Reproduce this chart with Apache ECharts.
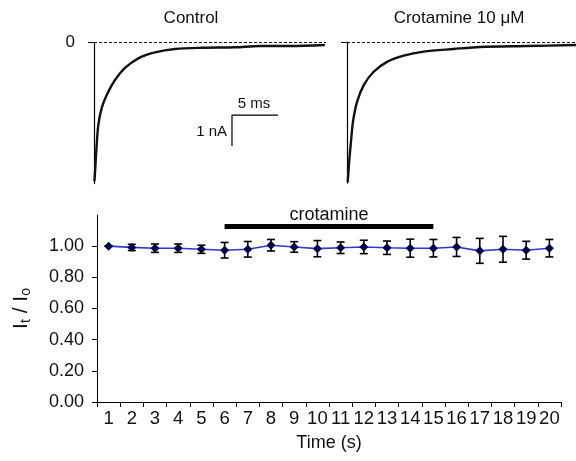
<!DOCTYPE html>
<html><head><meta charset="utf-8">
<script src="https://cdn.jsdelivr.net/npm/echarts@6.0.0/dist/echarts.min.js"></script>
<style>html,body{margin:0;padding:0;background:#fff}#c{width:576px;height:461px}</style>
</head><body><div id="c"></div>
<script>
// ---- Top panel: current traces (time in ms, current in nA) ----
const controlTime    = [0.05, 0.16, 0.29, 0.47, 0.84, 1.38, 2.28, 3.37, 4.82, 6.63, 8.8, 11.71, 15.33, 18.04, 21.3, 25.1];
const controlCurrent = [-4.47, -3.95, -3.31, -2.66, -2.11, -1.69, -1.21, -0.82, -0.51, -0.32, -0.21, -0.17, -0.155, -0.113, -0.113, -0.08];
const crotTime    = [0.08, 0.25, 0.43, 0.65, 1.09, 1.82, 2.9, 4.35, 6.16, 8.34, 11.6, 14.46, 19.57, 24.89];
const crotCurrent = [-4.52, -3.81, -3.22, -2.57, -1.93, -1.39, -0.96, -0.64, -0.44, -0.31, -0.226, -0.16, -0.13, -0.097];
// scale bar: 5 ms horizontal, 1 nA vertical
const scaleBarTime    = [15, 15, 20];
const scaleBarCurrent = [-3.34, -2.34, -2.34];

// ---- Bottom panel: normalized current It/Io ----
const categories = ['1','2','3','4','5','6','7','8','9','10','11','12','13','14','15','16','17','18','19','20'];
const ratioMean = [1.000, 0.992, 0.987, 0.987, 0.980, 0.974, 0.980, 1.006, 0.995, 0.984, 0.990, 0.995, 0.990, 0.987, 0.987, 0.995, 0.970, 0.980, 0.974, 0.987];
const ratioErr  = [0.000, 0.020, 0.027, 0.027, 0.026, 0.050, 0.050, 0.037, 0.034, 0.052, 0.037, 0.043, 0.043, 0.058, 0.056, 0.061, 0.080, 0.083, 0.057, 0.056];
const yTicks = [0, 0.2, 0.4, 0.6, 0.8, 1.0];
const crotamineStart = '6', crotamineEnd = '15', crotamineLevel = 1.13;

const FONT = "'Liberation Sans', Arial, Helvetica, sans-serif";
const zip = (a, b) => a.map((v, i) => [v, b[i]]);

const chart = echarts.init(document.getElementById('c'), null, {renderer: 'canvas'});
const option = {
  animation: false,
  textStyle: {fontFamily: FONT},
  grid: [
    {left: 94, top: 42.5, width: 232, height: 141.05},
    {left: 347, top: 42, width: 229, height: 141.05},
    {left: 94, top: 215, right: 15, bottom: 59}
  ],
  xAxis: [
    {gridIndex: 0, type: 'value', min: 0, max: 25.22, show: false},
    {gridIndex: 1, type: 'value', min: 0, max: 24.89, show: false},
    {gridIndex: 2, type: 'category', data: categories, boundaryGap: true,
     axisLine: {lineStyle: {color: '#000', width: 1}},
     axisTick: {show: true, length: 5, interval: 0, lineStyle: {color: '#000'}},
     axisLabel: {interval: 0, fontSize: 18.5, color: '#111', margin: 7, fontFamily: FONT},
     name: 'Time (s)', nameLocation: 'middle', nameGap: 32,
     nameTextStyle: {fontSize: 18, color: '#111', fontFamily: FONT}}
  ],
  yAxis: [
    {gridIndex: 0, type: 'value', min: -4.55, max: 0,
     axisLine: {show: true, lineStyle: {color: '#000', width: 1.2}},
     axisTick: {show: true, customValues: [0], length: 6, lineStyle: {color: '#000'}},
     axisLabel: {show: true, customValues: [0], fontSize: 17, color: '#111', margin: 19, fontFamily: FONT},
     splitLine: {show: false}},
    {gridIndex: 1, type: 'value', min: -4.55, max: 0,
     axisLine: {show: true, lineStyle: {color: '#000', width: 1.2}},
     axisTick: {show: true, customValues: [0], length: 6, lineStyle: {color: '#000'}},
     axisLabel: {show: false},
     splitLine: {show: false}},
    {gridIndex: 2, type: 'value', min: 0, max: 1.2,
     axisLine: {show: true, lineStyle: {color: '#000', width: 1}},
     axisTick: {show: true, customValues: yTicks, length: 5, lineStyle: {color: '#000'}},
     axisLabel: {customValues: yTicks, formatter: v => v.toFixed(2), fontSize: 18, color: '#111', margin: 13, fontFamily: FONT},
     splitLine: {show: false},
     name: '{i|I}{s|t}{i| / I}{s|o}', nameLocation: 'middle', nameRotate: 90, nameGap: 64,
     nameTextStyle: {color: '#111', fontFamily: FONT, rich: {
       i: {fontSize: 21, lineHeight: 22, verticalAlign: 'top', fontFamily: FONT, color: '#111'},
       s: {fontSize: 14, lineHeight: 14, padding: [11, 0, 0, 0], verticalAlign: 'bottom', fontFamily: FONT, color: '#111'}
     }}}
  ],
  graphic: [
    {type: 'text', x: 191, y: 18, style: {text: 'Control', fontSize: 17, fontFamily: FONT, fill: '#111', align: 'center', verticalAlign: 'middle'}},
    {type: 'text', x: 459, y: 18, style: {text: 'Crotamine 10 \u03bcM', fontSize: 17, fontFamily: FONT, fill: '#111', align: 'center', verticalAlign: 'middle'}},
    {type: 'text', x: 254, y: 104, style: {text: '5 ms', fontSize: 15, fontFamily: FONT, fill: '#111', align: 'center', verticalAlign: 'middle'}},
    {type: 'text', x: 227, y: 132, style: {text: '1 nA', fontSize: 15, fontFamily: FONT, fill: '#111', align: 'right', verticalAlign: 'middle'}}
  ],
  series: [
    {type: 'line', xAxisIndex: 0, yAxisIndex: 0, data: zip(controlTime, controlCurrent),
     showSymbol: false, smooth: 0.3, lineStyle: {color: '#111', width: 2.4},
     markLine: {silent: true, symbol: ['none', 'none'], label: {show: false},
       lineStyle: {color: '#000', type: [3, 2], width: 1}, data: [{yAxis: 0}]}},
    {type: 'line', xAxisIndex: 1, yAxisIndex: 1, data: zip(crotTime, crotCurrent),
     showSymbol: false, smooth: 0.3, lineStyle: {color: '#111', width: 2.4},
     markLine: {silent: true, symbol: ['none', 'none'], label: {show: false},
       lineStyle: {color: '#000', type: [3, 2], width: 1}, data: [{yAxis: 0}]}},
    {type: 'line', xAxisIndex: 0, yAxisIndex: 0, data: zip(scaleBarTime, scaleBarCurrent),
     showSymbol: false, lineStyle: {color: '#000', width: 1.2}},
    {type: 'custom', xAxisIndex: 2, yAxisIndex: 2, z: 2,
     data: ratioMean.map((m, i) => [i, m - ratioErr[i], m + ratioErr[i]]),
     renderItem: function (params, api) {
       const lo = api.coord([api.value(0), api.value(1)]);
       const hi = api.coord([api.value(0), api.value(2)]);
       const w = 4;
       const st = {stroke: '#000', lineWidth: 1.6};
       return {type: 'group', children: [
         {type: 'line', shape: {x1: lo[0], y1: lo[1], x2: hi[0], y2: hi[1]}, style: st},
         {type: 'line', shape: {x1: lo[0] - w, y1: lo[1], x2: lo[0] + w, y2: lo[1]}, style: st},
         {type: 'line', shape: {x1: hi[0] - w, y1: hi[1], x2: hi[0] + w, y2: hi[1]}, style: st}
       ]};
     }},
    {type: 'line', xAxisIndex: 2, yAxisIndex: 2, z: 3, data: ratioMean,
     symbol: 'diamond', symbolSize: 9, itemStyle: {color: '#00004a'},
     lineStyle: {color: '#2a3acc', width: 1.6},
     markLine: {silent: true, symbol: ['none', 'none'],
       lineStyle: {color: '#000', type: 'solid', width: 5, cap: 'butt'},
       label: {show: true, formatter: 'crotamine', position: 'middle', fontSize: 18, color: '#111', fontFamily: FONT, distance: 2},
       data: [[{coord: [crotamineStart, crotamineLevel]}, {coord: [crotamineEnd, crotamineLevel]}]]}}
  ]
};
chart.setOption(option);
</script>
</body></html>
